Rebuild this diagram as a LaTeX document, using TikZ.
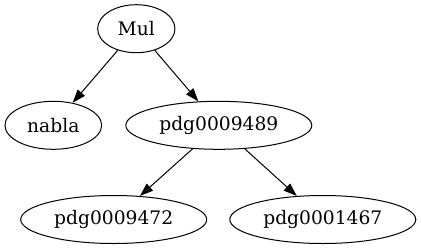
\documentclass[tikz,border=0pt]{standalone}
\usepackage{fontspec}
\setmainfont{DejaVu Serif}
\usetikzlibrary{shapes.geometric,arrows.meta}

\begin{document}
\begin{tikzpicture}[x=0.75pt,y=-0.75pt,line width=0.75pt,
    term/.style={draw,ellipse,inner sep=0pt,minimum height=36pt,font=\fontsize{14pt}{16pt}\selectfont},
    edge/.style={-{Triangle[length=10pt,width=7pt]}}]
  % Frame
  \useasboundingbox (0,0) rectangle (421,251);

  % Nodes
  \node[term,minimum width=58pt]    (mul)  at (136.3,28.7)  {Mul};
  \node[term,minimum width=72.5pt]  (nabla) at (53.3,125.3) {nabla};
  \node[term,minimum width=139.5pt] (p489) at (218.8,125.3) {pdg0009489};
  \node[term,minimum width=139.5pt] (p472) at (113.7,219.5) {pdg0009472};
  \node[term,minimum width=139.5pt] (p467) at (322.8,219.5) {pdg0001467};

  % Edges
  \draw[edge] (mul) -- (nabla);
  \draw[edge] (mul) -- (p489);
  \draw[edge] (p489) -- (p472);
  \draw[edge] (p489) -- (p467);
\end{tikzpicture}
\end{document}
